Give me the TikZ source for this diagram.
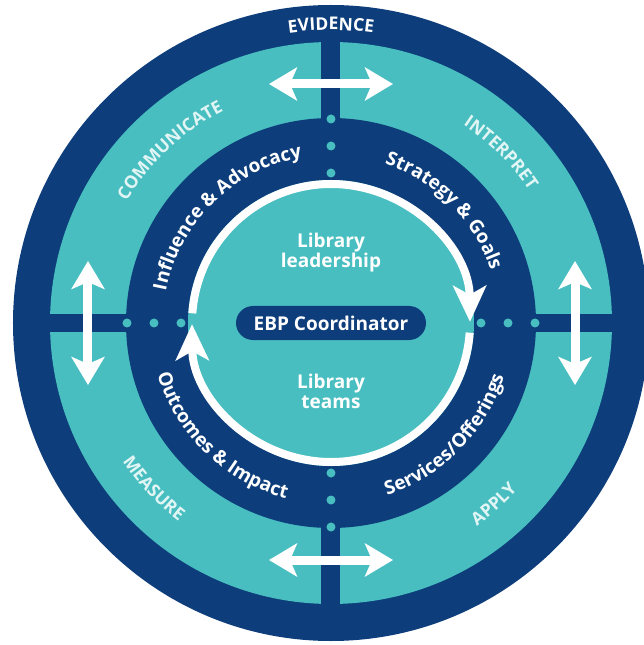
\documentclass[tikz,border=0pt]{standalone}
\usepackage{fontspec}
\setmainfont{Open Sans}
\usetikzlibrary{arrows.meta,decorations.text}
\definecolor{navy}{HTML}{0D3D7A}
\definecolor{aqua}{HTML}{48BEC0}
\definecolor{pale}{HTML}{E1F5F5}
\newcommand\outerfont{\bfseries\fontsize{17.5}{20}\selectfont}
\newcommand\innerfont{\bfseries\fontsize{19}{22}\selectfont}
\tikzset{
  outerlabel/.style={decorate, decoration={text along path, text align=center, text color=white, text={|\outerfont|#1}}},
  ringlabel/.style={decorate, decoration={text along path, text align=center, text color=pale, text={|\outerfont|#1}}},
  innerlabel/.style={decorate, decoration={text along path, text align=center, text color=white, text={|\innerfont|#1}}},
  twoway/.style={draw=white, line width=9pt, {Stealth[length=28pt,width=33pt,inset=7pt]}-{Stealth[length=28pt,width=33pt,inset=7pt]}},
  cyclearrow/.style={draw=white, line width=8pt, -{Stealth[length=36pt,width=33pt,inset=9pt]}},
  pill/.style={fill=navy, text=white, rounded corners=17pt, minimum width=190pt, minimum height=34pt, font=\bfseries\fontsize{19}{22}\selectfont},
  centertext/.style={text=white, align=center, font=\bfseries\fontsize{19}{20}\selectfont}
}
\begin{document}
\begin{tikzpicture}[x=1pt,y=1pt]
\useasboundingbox (-331,-322) rectangle (313,323);
\clip (-331,-322) rectangle (313,323);
% rings
\fill[navy] (0,0) circle[radius=318];
\fill[aqua] (0,0) circle[radius=281];
\fill[navy] (0,0) circle[radius=205];
% the cross
\fill[navy] (-9.5,-300) rectangle (9.5,300);
\fill[navy] (-300,-9) rectangle (300,9);
\fill[aqua] (0,0) circle[radius=143];
% dots on the cross
\foreach \a in {0,90,180,270}
  \foreach \r in {150,177,204}
    \fill[aqua] (\a:\r) circle[radius=4.5];
% white cycle
\draw[cyclearrow] (176:139) arc[start angle=176, end angle=0.5, radius=139];
\draw[cyclearrow] (-4:139) arc[start angle=-4, end angle=-179.5, radius=139];
% arrows in the teal ring
\draw[twoway] (-62,239) -- (62,239);
\draw[twoway] (-62,-237) -- (62,-237);
\draw[twoway] (-243,62) -- (-243,-62);
\draw[twoway] (244,62) -- (244,-62);
% centre
\node[pill] (coord) at (0,0) {EBP Coordinator};
\node[centertext] (lead) at (0,70) {Library\\leadership};
\node[centertext] (teams) at (0,-68) {Library\\teams};
% ring labels
\path[outerlabel={EVIDENCE}] (135:293) arc[start angle=135, end angle=45, radius=293];
\path[ringlabel={COMMUNICATE}] (178:238) arc[start angle=178, end angle=88, radius=238];
\path[ringlabel={INTERPRET}] (90:238) arc[start angle=90, end angle=0, radius=238];
\path[ringlabel={MEASURE}] (178:250) arc[start angle=178, end angle=268, radius=250];
\path[ringlabel={APPLY}] (-93:250) arc[start angle=-93, end angle=-3, radius=250];
% dark ring labels
\path[innerlabel={Influence {\&} Advocacy}] (179.5:168) arc[start angle=179.5, end angle=89.5, radius=168];
\path[innerlabel={Strategy {\&} Goals}] (89.75:168) arc[start angle=89.75, end angle=-0.25, radius=168];
\path[innerlabel={Outcomes {\&} Impact}] (181:181) arc[start angle=181, end angle=271, radius=181];
\path[innerlabel={Services/Offerings}] (-89.5:181) arc[start angle=-89.5, end angle=0.5, radius=181];
\end{tikzpicture}
\end{document}
